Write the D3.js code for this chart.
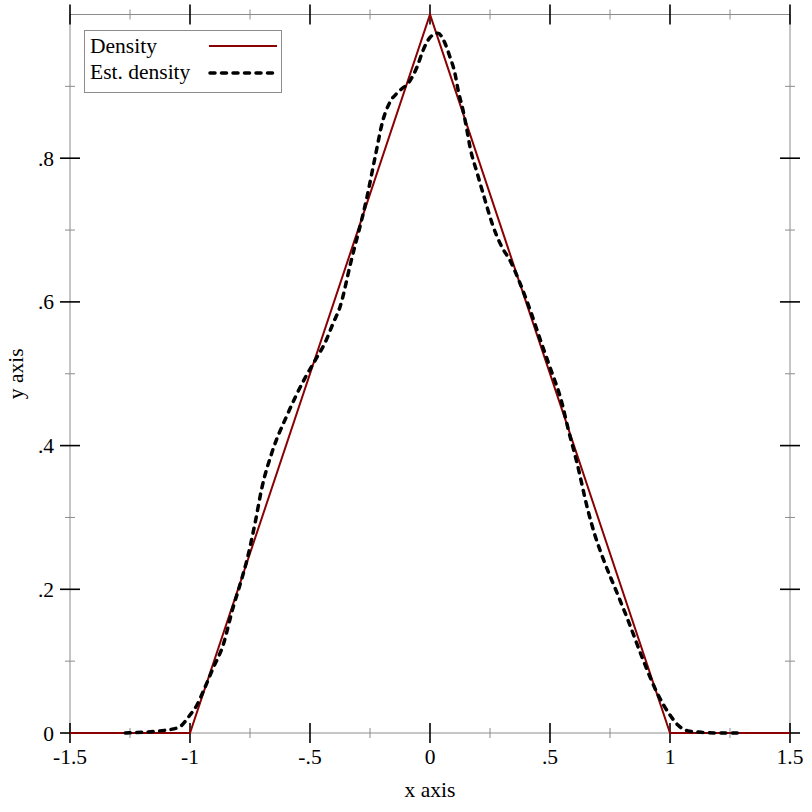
<!DOCTYPE html>
<html>
<head>
<meta charset="utf-8">
<script src="https://cdn.jsdelivr.net/npm/d3@7"></script>
<style>
    body { margin: 0; background: #fff; }
    text { font-family: "Liberation Serif", "Times New Roman", serif; font-size: 21.5px; fill: #000; }
</style>
</head>
<body>
<svg id="chart"></svg>
<script>
// triangle density
const densityX = [-1.5, -1, 0, 1, 1.5];
const densityY = [0, 0, 1, 0, 0];

// estimated density
const estX = [-1.27, -1.2, -1.1, -1.046, -1.0, -0.971, -0.946, -0.904, -0.8625, -0.821, -0.792, -0.7625,
    -0.729, -0.7, -0.658, -0.596, -0.521, -0.471, -0.4375, -0.404, -0.375, -0.33, -0.2625, -0.229,
    -0.196, -0.167, -0.133, -0.083, -0.054, -0.029, 0, 0.033, 0.0625, 0.083, 0.104, 0.117, 0.1375,
    0.154, 0.167, 0.196, 0.229, 0.258, 0.3, 0.333, 0.375, 0.417, 0.467, 0.5, 0.55, 0.575, 0.6125,
    0.658, 0.6875, 0.721, 0.783, 0.825, 0.883, 0.946, 1.0, 1.033, 1.075, 1.13, 1.2, 1.29];
const estY = [0, 0.001, 0.004, 0.008, 0.025, 0.039, 0.057, 0.090, 0.122, 0.174, 0.206, 0.241,
    0.292, 0.342, 0.391, 0.442, 0.494, 0.523, 0.543, 0.570, 0.593, 0.655, 0.746, 0.801,
    0.853, 0.878, 0.892, 0.908, 0.927, 0.950, 0.968, 0.974, 0.960, 0.941, 0.918, 0.895, 0.867,
    0.839, 0.815, 0.780, 0.742, 0.710, 0.676, 0.658, 0.626, 0.589, 0.540, 0.509, 0.459, 0.424, 0.376,
    0.310, 0.275, 0.243, 0.192, 0.157, 0.106, 0.056, 0.025, 0.011, 0.003, 0.001, 0, 0];

const xMajor = [-1.5, -1, -0.5, 0, 0.5, 1, 1.5];
const xMajorLabels = ['-1.5', '-1', '-.5', '0', '.5', '1', '1.5'];
const xMinor = [-1.25, -0.75, -0.25, 0.25, 0.75, 1.25];
const yMajor = [0, 0.2, 0.4, 0.6, 0.8];
const yMajorLabels = ['0', '.2', '.4', '.6', '.8'];
const yMinor = [0.1, 0.3, 0.5, 0.7, 0.9];

const legendNames = ['Density', 'Est. density'];

const width = 812, height = 812;
const svg = d3.select('#chart').attr('width', width).attr('height', height);

const x = d3.scaleLinear().domain([-1.5, 1.5]).range([70, 790]);
const y = d3.scaleLinear().domain([0, 1]).range([733, 14.5]);

const pLeft = x.range()[0], pRight = x.range()[1];
const pBottom = y.range()[0], pTop = y.range()[1];

// frame
svg.append('rect')
    .attr('x', pLeft).attr('y', pTop)
    .attr('width', pRight - pLeft).attr('height', pBottom - pTop)
    .attr('fill', 'none').attr('stroke', '#8c8c8c').attr('stroke-width', 1);

const ticks = svg.append('g');
function hTicks(vals, yy, len, color, w) {
    ticks.append('g').selectAll('line').data(vals).join('line')
        .attr('x1', d => x(d)).attr('x2', d => x(d))
        .attr('y1', yy - len).attr('y2', yy + len)
        .attr('stroke', color).attr('stroke-width', w);
}
function vTicks(vals, xx, len, color, w) {
    ticks.append('g').selectAll('line').data(vals).join('line')
        .attr('y1', d => y(d)).attr('y2', d => y(d))
        .attr('x1', xx - len).attr('x2', xx + len)
        .attr('stroke', color).attr('stroke-width', w);
}
[pBottom, pTop].forEach(yy => {
    hTicks(xMinor, yy, 5, '#8c8c8c', 1);
    hTicks(xMajor, yy, 10, '#000', 1.6);
});
[pLeft, pRight].forEach(xx => {
    vTicks(yMinor, xx, 5, '#8c8c8c', 1);
    vTicks(yMajor, xx, 10, '#000', 1.6);
});

svg.append('g').selectAll('text').data(xMajor).join('text')
    .attr('x', d => x(d)).attr('y', 764)
    .attr('text-anchor', 'middle')
    .text((d, i) => xMajorLabels[i]);

svg.append('g').selectAll('text').data(yMajor).join('text')
    .attr('x', 54).attr('y', d => y(d))
    .attr('dy', '0.35em')
    .attr('text-anchor', 'end')
    .text((d, i) => yMajorLabels[i]);

svg.append('text')
    .attr('x', (pLeft + pRight) / 2).attr('y', 797)
    .attr('text-anchor', 'middle')
    .text('x axis');

svg.append('text')
    .attr('transform', `translate(23, ${(pTop + pBottom) / 2}) rotate(-90)`)
    .attr('text-anchor', 'middle')
    .text('y axis');

// data lines
const line = d3.line().x(d => x(d[0])).y(d => y(d[1]));

svg.append('path')
    .datum(d3.zip(densityX, densityY))
    .attr('d', line)
    .attr('fill', 'none')
    .attr('stroke', '#8b0000')
    .attr('stroke-width', 2);

svg.append('path')
    .datum(d3.zip(estX, estY))
    .attr('d', line.curve(d3.curveMonotoneX))
    .attr('fill', 'none')
    .attr('stroke', '#000')
    .attr('stroke-width', 3.5)
    .attr('stroke-linecap', 'round')
    .attr('stroke-dasharray', '5,6.5');

// legend
const legend = svg.append('g');
legend.append('rect')
    .attr('x', 84.5).attr('y', 30.5)
    .attr('width', 197).attr('height', 62)
    .attr('fill', '#fff').attr('stroke', '#8c8c8c');

legend.selectAll('text.lab').data(legendNames).join('text')
    .attr('class', 'lab')
    .attr('x', 90).attr('y', (d, i) => 53 + i * 26)
    .text(d => d);

legend.append('line')
    .attr('x1', 209).attr('x2', 277).attr('y1', 46).attr('y2', 46)
    .attr('stroke', '#8b0000').attr('stroke-width', 2);
legend.append('line')
    .attr('x1', 210).attr('x2', 274).attr('y1', 73).attr('y2', 73)
    .attr('stroke', '#000').attr('stroke-width', 3.5)
    .attr('stroke-linecap', 'round')
    .attr('stroke-dasharray', '5,6.5');
</script>
</body>
</html>
